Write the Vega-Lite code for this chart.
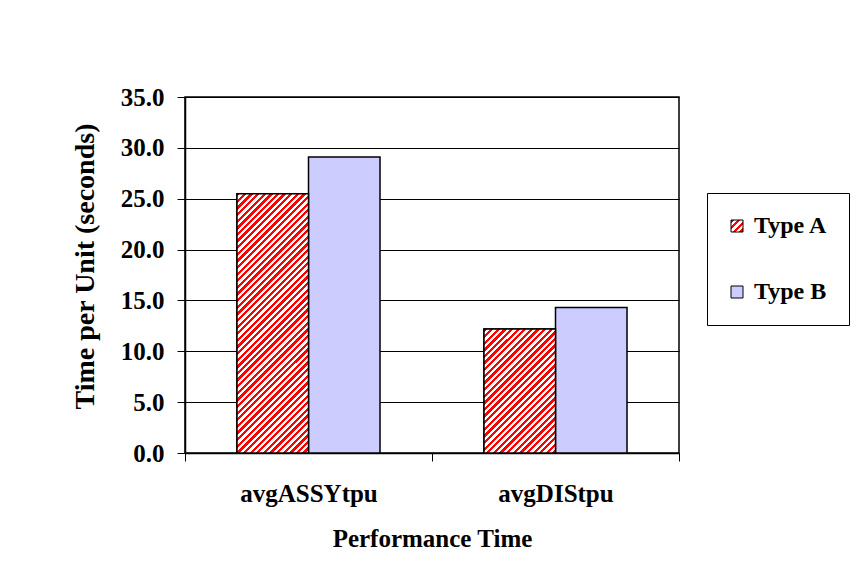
{
  "$schema": "https://vega.github.io/schema/vega-lite/v6.json",
  "width": 494,
  "height": 356,
  "autosize": "none",
  "padding": {"left": 185, "top": 97, "right": 183, "bottom": 134},
  "background": "white",
  "config": {
    "font": "Liberation Serif",
    "view": {"stroke": "black", "strokeWidth": 1.5},
    "axis": {
      "labelFont": "Liberation Serif", "labelFontSize": 25, "labelFontWeight": "bold", "labelColor": "black",
      "titleFont": "Liberation Serif", "titleFontSize": 25, "titleFontWeight": "bold", "titleColor": "black",
      "domainColor": "black", "domainWidth": 1.5, "tickColor": "black", "tickWidth": 1, "tickSize": 8
    }
  },
  "data": {"values": [
    {"perf": "avgASSYtpu", "type": "Type A", "time": 25.5},
    {"perf": "avgASSYtpu", "type": "Type B", "time": 29.1},
    {"perf": "avgDIStpu", "type": "Type A", "time": 12.2},
    {"perf": "avgDIStpu", "type": "Type B", "time": 14.3}
  ]},
  "encoding": {
    "x": {"field": "perf", "type": "nominal", "title": "Performance Time",
      "scale": {"paddingInner": 0, "paddingOuter": 0},
      "axis": {"labelAngle": 0, "tickBand": "extent", "labelPadding": 20, "titlePadding": 20, "grid": false}},
    "xOffset": {"field": "type", "type": "nominal", "scale": {"paddingInner": 0, "paddingOuter": 0.727}},
    "y": {"field": "time", "type": "quantitative", "title": "Time per Unit (seconds)",
      "scale": {"domain": [0, 35], "nice": false},
      "axis": {"values": [0, 5, 10, 15, 20, 25, 30, 35], "format": ".1f", "grid": true, "gridColor": "black", "gridWidth": 1, "gridOpacity": 1, "labelPadding": 13, "titlePadding": 21, "titleFontSize": 28, "titleY": 169}}
  },
  "layer": [
    {
      "mark": {"type": "bar", "stroke": "black", "strokeWidth": 1.5},
      "encoding": {
        "fill": {"field": "type", "type": "nominal",
          "scale": {"domain": ["Type A", "Type B"], "range": [
            {"expr": "{gradient: 'linear', x1: 0, y1: 0, x2: 13.79, y2: 13.79, stops: [{offset: 0, color: '#f00'}, {offset: 0.01, color: '#f00'}, {offset: 0.01, color: '#fff'}, {offset: 0.02, color: '#fff'}, {offset: 0.02, color: '#f00'}, {offset: 0.03, color: '#f00'}, {offset: 0.03, color: '#fff'}, {offset: 0.04, color: '#fff'}, {offset: 0.04, color: '#f00'}, {offset: 0.05, color: '#f00'}, {offset: 0.05, color: '#fff'}, {offset: 0.06, color: '#fff'}, {offset: 0.06, color: '#f00'}, {offset: 0.07, color: '#f00'}, {offset: 0.07, color: '#fff'}, {offset: 0.08, color: '#fff'}, {offset: 0.08, color: '#f00'}, {offset: 0.09, color: '#f00'}, {offset: 0.09, color: '#fff'}]}"},
            "#CCCCFF"]},
          "legend": {"title": null, "orient": "none", "legendX": 522, "legendY": 96,
            "strokeColor": "black", "fillColor": "white", "padding": 21,
            "symbolType": "square", "symbolSize": 144, "symbolStrokeColor": "black", "symbolStrokeWidth": 1,
            "labelFont": "Liberation Serif", "labelFontSize": 24, "labelFontWeight": "bold", "labelColor": "black",
            "rowPadding": 42, "labelOffset": 5, "symbolOffset": -3}
        }
      }
    },
    {
      "transform": [{"filter": "datum.type === 'Type A'"}],
      "mark": {"type": "bar", "stroke": "black", "strokeWidth": 1.5},
      "encoding": {
        "fill": {
          "condition": {"test": "datum.perf === 'avgASSYtpu'", "value": {"gradient": "linear", "x1": 0, "y1": 0, "x2": 0.32688, "y2": 1.18593, "stops": [
            {"offset":0,"color":"#f00"},
            {"offset":0.01,"color":"#f00"},{"offset":0.01,"color":"#fff"},
            {"offset":0.02,"color":"#fff"},{"offset":0.02,"color":"#f00"},
            {"offset":0.03,"color":"#f00"},{"offset":0.03,"color":"#fff"},
            {"offset":0.04,"color":"#fff"},{"offset":0.04,"color":"#f00"},
            {"offset":0.05,"color":"#f00"},{"offset":0.05,"color":"#fff"},
            {"offset":0.06,"color":"#fff"},{"offset":0.06,"color":"#f00"},
            {"offset":0.07,"color":"#f00"},{"offset":0.07,"color":"#fff"},
            {"offset":0.08,"color":"#fff"},{"offset":0.08,"color":"#f00"},
            {"offset":0.09,"color":"#f00"},{"offset":0.09,"color":"#fff"},
            {"offset":0.10,"color":"#fff"},{"offset":0.10,"color":"#f00"},
            {"offset":0.11,"color":"#f00"},{"offset":0.11,"color":"#fff"},
            {"offset":0.12,"color":"#fff"},{"offset":0.12,"color":"#f00"},
            {"offset":0.13,"color":"#f00"},{"offset":0.13,"color":"#fff"},
            {"offset":0.14,"color":"#fff"},{"offset":0.14,"color":"#f00"},
            {"offset":0.15,"color":"#f00"},{"offset":0.15,"color":"#fff"},
            {"offset":0.16,"color":"#fff"},{"offset":0.16,"color":"#f00"},
            {"offset":0.17,"color":"#f00"},{"offset":0.17,"color":"#fff"},
            {"offset":0.18,"color":"#fff"},{"offset":0.18,"color":"#f00"},
            {"offset":0.19,"color":"#f00"},{"offset":0.19,"color":"#fff"},
            {"offset":0.20,"color":"#fff"},{"offset":0.20,"color":"#f00"},
            {"offset":0.21,"color":"#f00"},{"offset":0.21,"color":"#fff"},
            {"offset":0.22,"color":"#fff"},{"offset":0.22,"color":"#f00"},
            {"offset":0.23,"color":"#f00"},{"offset":0.23,"color":"#fff"},
            {"offset":0.24,"color":"#fff"},{"offset":0.24,"color":"#f00"},
            {"offset":0.25,"color":"#f00"},{"offset":0.25,"color":"#fff"},
            {"offset":0.26,"color":"#fff"},{"offset":0.26,"color":"#f00"},
            {"offset":0.27,"color":"#f00"},{"offset":0.27,"color":"#fff"},
            {"offset":0.28,"color":"#fff"},{"offset":0.28,"color":"#f00"},
            {"offset":0.29,"color":"#f00"},{"offset":0.29,"color":"#fff"},
            {"offset":0.30,"color":"#fff"},{"offset":0.30,"color":"#f00"},
            {"offset":0.31,"color":"#f00"},{"offset":0.31,"color":"#fff"},
            {"offset":0.32,"color":"#fff"},{"offset":0.32,"color":"#f00"},
            {"offset":0.33,"color":"#f00"},{"offset":0.33,"color":"#fff"},
            {"offset":0.34,"color":"#fff"},{"offset":0.34,"color":"#f00"},
            {"offset":0.35,"color":"#f00"},{"offset":0.35,"color":"#fff"},
            {"offset":0.36,"color":"#fff"},{"offset":0.36,"color":"#f00"},
            {"offset":0.37,"color":"#f00"},{"offset":0.37,"color":"#fff"},
            {"offset":0.38,"color":"#fff"},{"offset":0.38,"color":"#f00"},
            {"offset":0.39,"color":"#f00"},{"offset":0.39,"color":"#fff"},
            {"offset":0.40,"color":"#fff"},{"offset":0.40,"color":"#f00"},
            {"offset":0.41,"color":"#f00"},{"offset":0.41,"color":"#fff"},
            {"offset":0.42,"color":"#fff"},{"offset":0.42,"color":"#f00"},
            {"offset":0.43,"color":"#f00"},{"offset":0.43,"color":"#fff"},
            {"offset":0.44,"color":"#fff"},{"offset":0.44,"color":"#f00"},
            {"offset":0.45,"color":"#f00"},{"offset":0.45,"color":"#fff"},
            {"offset":0.46,"color":"#fff"},{"offset":0.46,"color":"#f00"},
            {"offset":0.47,"color":"#f00"},{"offset":0.47,"color":"#fff"},
            {"offset":0.48,"color":"#fff"},{"offset":0.48,"color":"#f00"},
            {"offset":0.49,"color":"#f00"},{"offset":0.49,"color":"#fff"},
            {"offset":0.50,"color":"#fff"},{"offset":0.50,"color":"#f00"},
            {"offset":0.51,"color":"#f00"},{"offset":0.51,"color":"#fff"},
            {"offset":0.52,"color":"#fff"},{"offset":0.52,"color":"#f00"},
            {"offset":0.53,"color":"#f00"},{"offset":0.53,"color":"#fff"},
            {"offset":0.54,"color":"#fff"},{"offset":0.54,"color":"#f00"},
            {"offset":0.55,"color":"#f00"},{"offset":0.55,"color":"#fff"},
            {"offset":0.56,"color":"#fff"},{"offset":0.56,"color":"#f00"},
            {"offset":0.57,"color":"#f00"},{"offset":0.57,"color":"#fff"},
            {"offset":0.58,"color":"#fff"},{"offset":0.58,"color":"#f00"},
            {"offset":0.59,"color":"#f00"},{"offset":0.59,"color":"#fff"},
            {"offset":0.60,"color":"#fff"},{"offset":0.60,"color":"#f00"},
            {"offset":0.61,"color":"#f00"},{"offset":0.61,"color":"#fff"},
            {"offset":0.62,"color":"#fff"},{"offset":0.62,"color":"#f00"},
            {"offset":0.63,"color":"#f00"},{"offset":0.63,"color":"#fff"},
            {"offset":0.64,"color":"#fff"},{"offset":0.64,"color":"#f00"},
            {"offset":0.65,"color":"#f00"},{"offset":0.65,"color":"#fff"},
            {"offset":0.66,"color":"#fff"},{"offset":0.66,"color":"#f00"},
            {"offset":0.67,"color":"#f00"},{"offset":0.67,"color":"#fff"},
            {"offset":0.68,"color":"#fff"},{"offset":0.68,"color":"#f00"},
            {"offset":0.69,"color":"#f00"},{"offset":0.69,"color":"#fff"},
            {"offset":0.70,"color":"#fff"},{"offset":0.70,"color":"#f00"},
            {"offset":0.71,"color":"#f00"},{"offset":0.71,"color":"#fff"},
            {"offset":0.72,"color":"#fff"},{"offset":0.72,"color":"#f00"},
            {"offset":0.73,"color":"#f00"},{"offset":0.73,"color":"#fff"},
            {"offset":0.74,"color":"#fff"},{"offset":0.74,"color":"#f00"},
            {"offset":0.75,"color":"#f00"},{"offset":0.75,"color":"#fff"},
            {"offset":0.76,"color":"#fff"},{"offset":0.76,"color":"#f00"},
            {"offset":0.77,"color":"#f00"},{"offset":0.77,"color":"#fff"},
            {"offset":0.78,"color":"#fff"},{"offset":0.78,"color":"#f00"},
            {"offset":0.79,"color":"#f00"},{"offset":0.79,"color":"#fff"},
            {"offset":0.80,"color":"#fff"},{"offset":0.80,"color":"#f00"},
            {"offset":0.81,"color":"#f00"},{"offset":0.81,"color":"#fff"},
            {"offset":0.82,"color":"#fff"},{"offset":0.82,"color":"#f00"},
            {"offset":0.83,"color":"#f00"},{"offset":0.83,"color":"#fff"},
            {"offset":0.84,"color":"#fff"},{"offset":0.84,"color":"#f00"},
            {"offset":0.85,"color":"#f00"},{"offset":0.85,"color":"#fff"},
            {"offset":0.86,"color":"#fff"},{"offset":0.86,"color":"#f00"},
            {"offset":0.87,"color":"#f00"},{"offset":0.87,"color":"#fff"},
            {"offset":0.88,"color":"#fff"},{"offset":0.88,"color":"#f00"},
            {"offset":0.89,"color":"#f00"},{"offset":0.89,"color":"#fff"},
            {"offset":0.90,"color":"#fff"},{"offset":0.90,"color":"#f00"},
            {"offset":0.91,"color":"#f00"},{"offset":0.91,"color":"#fff"},
            {"offset":0.92,"color":"#fff"},{"offset":0.92,"color":"#f00"},
            {"offset":0.93,"color":"#f00"},{"offset":0.93,"color":"#fff"},
            {"offset":0.94,"color":"#fff"},{"offset":0.94,"color":"#f00"},
            {"offset":0.95,"color":"#f00"},{"offset":0.95,"color":"#fff"},
            {"offset":0.96,"color":"#fff"},{"offset":0.96,"color":"#f00"},
            {"offset":0.97,"color":"#f00"},{"offset":0.97,"color":"#fff"},
            {"offset":0.98,"color":"#fff"},{"offset":0.98,"color":"#f00"},
            {"offset":0.99,"color":"#f00"},{"offset":0.99,"color":"#fff"},
            {"offset":1,"color":"#fff"}
          ]}},
          "value": {"gradient": "linear", "x1": 0, "y1": 0, "x2": 1.15373, "y2": 2.00248, "stops": [
            {"offset":0,"color":"#f00"},
            {"offset":0.01,"color":"#f00"},{"offset":0.01,"color":"#fff"},
            {"offset":0.02,"color":"#fff"},{"offset":0.02,"color":"#f00"},
            {"offset":0.03,"color":"#f00"},{"offset":0.03,"color":"#fff"},
            {"offset":0.04,"color":"#fff"},{"offset":0.04,"color":"#f00"},
            {"offset":0.05,"color":"#f00"},{"offset":0.05,"color":"#fff"},
            {"offset":0.06,"color":"#fff"},{"offset":0.06,"color":"#f00"},
            {"offset":0.07,"color":"#f00"},{"offset":0.07,"color":"#fff"},
            {"offset":0.08,"color":"#fff"},{"offset":0.08,"color":"#f00"},
            {"offset":0.09,"color":"#f00"},{"offset":0.09,"color":"#fff"},
            {"offset":0.10,"color":"#fff"},{"offset":0.10,"color":"#f00"},
            {"offset":0.11,"color":"#f00"},{"offset":0.11,"color":"#fff"},
            {"offset":0.12,"color":"#fff"},{"offset":0.12,"color":"#f00"},
            {"offset":0.13,"color":"#f00"},{"offset":0.13,"color":"#fff"},
            {"offset":0.14,"color":"#fff"},{"offset":0.14,"color":"#f00"},
            {"offset":0.15,"color":"#f00"},{"offset":0.15,"color":"#fff"},
            {"offset":0.16,"color":"#fff"},{"offset":0.16,"color":"#f00"},
            {"offset":0.17,"color":"#f00"},{"offset":0.17,"color":"#fff"},
            {"offset":0.18,"color":"#fff"},{"offset":0.18,"color":"#f00"},
            {"offset":0.19,"color":"#f00"},{"offset":0.19,"color":"#fff"},
            {"offset":0.20,"color":"#fff"},{"offset":0.20,"color":"#f00"},
            {"offset":0.21,"color":"#f00"},{"offset":0.21,"color":"#fff"},
            {"offset":0.22,"color":"#fff"},{"offset":0.22,"color":"#f00"},
            {"offset":0.23,"color":"#f00"},{"offset":0.23,"color":"#fff"},
            {"offset":0.24,"color":"#fff"},{"offset":0.24,"color":"#f00"},
            {"offset":0.25,"color":"#f00"},{"offset":0.25,"color":"#fff"},
            {"offset":0.26,"color":"#fff"},{"offset":0.26,"color":"#f00"},
            {"offset":0.27,"color":"#f00"},{"offset":0.27,"color":"#fff"},
            {"offset":0.28,"color":"#fff"},{"offset":0.28,"color":"#f00"},
            {"offset":0.29,"color":"#f00"},{"offset":0.29,"color":"#fff"},
            {"offset":0.30,"color":"#fff"},{"offset":0.30,"color":"#f00"},
            {"offset":0.31,"color":"#f00"},{"offset":0.31,"color":"#fff"},
            {"offset":0.32,"color":"#fff"},{"offset":0.32,"color":"#f00"},
            {"offset":0.33,"color":"#f00"},{"offset":0.33,"color":"#fff"},
            {"offset":0.34,"color":"#fff"},{"offset":0.34,"color":"#f00"},
            {"offset":0.35,"color":"#f00"},{"offset":0.35,"color":"#fff"},
            {"offset":0.36,"color":"#fff"},{"offset":0.36,"color":"#f00"},
            {"offset":0.37,"color":"#f00"},{"offset":0.37,"color":"#fff"},
            {"offset":0.38,"color":"#fff"},{"offset":0.38,"color":"#f00"},
            {"offset":0.39,"color":"#f00"},{"offset":0.39,"color":"#fff"},
            {"offset":0.40,"color":"#fff"},{"offset":0.40,"color":"#f00"},
            {"offset":0.41,"color":"#f00"},{"offset":0.41,"color":"#fff"},
            {"offset":0.42,"color":"#fff"},{"offset":0.42,"color":"#f00"},
            {"offset":0.43,"color":"#f00"},{"offset":0.43,"color":"#fff"},
            {"offset":0.44,"color":"#fff"},{"offset":0.44,"color":"#f00"},
            {"offset":0.45,"color":"#f00"},{"offset":0.45,"color":"#fff"},
            {"offset":0.46,"color":"#fff"},{"offset":0.46,"color":"#f00"},
            {"offset":0.47,"color":"#f00"},{"offset":0.47,"color":"#fff"},
            {"offset":0.48,"color":"#fff"},{"offset":0.48,"color":"#f00"},
            {"offset":0.49,"color":"#f00"},{"offset":0.49,"color":"#fff"},
            {"offset":0.50,"color":"#fff"},{"offset":0.50,"color":"#f00"},
            {"offset":0.51,"color":"#f00"},{"offset":0.51,"color":"#fff"},
            {"offset":0.52,"color":"#fff"},{"offset":0.52,"color":"#f00"},
            {"offset":0.53,"color":"#f00"},{"offset":0.53,"color":"#fff"},
            {"offset":0.54,"color":"#fff"},{"offset":0.54,"color":"#f00"},
            {"offset":0.55,"color":"#f00"},{"offset":0.55,"color":"#fff"},
            {"offset":0.56,"color":"#fff"},{"offset":0.56,"color":"#f00"},
            {"offset":0.57,"color":"#f00"},{"offset":0.57,"color":"#fff"},
            {"offset":0.58,"color":"#fff"},{"offset":0.58,"color":"#f00"},
            {"offset":0.59,"color":"#f00"},{"offset":0.59,"color":"#fff"},
            {"offset":0.60,"color":"#fff"},{"offset":0.60,"color":"#f00"},
            {"offset":0.61,"color":"#f00"},{"offset":0.61,"color":"#fff"},
            {"offset":0.62,"color":"#fff"}
          ]}
        }
      }
    }
  ]
}
